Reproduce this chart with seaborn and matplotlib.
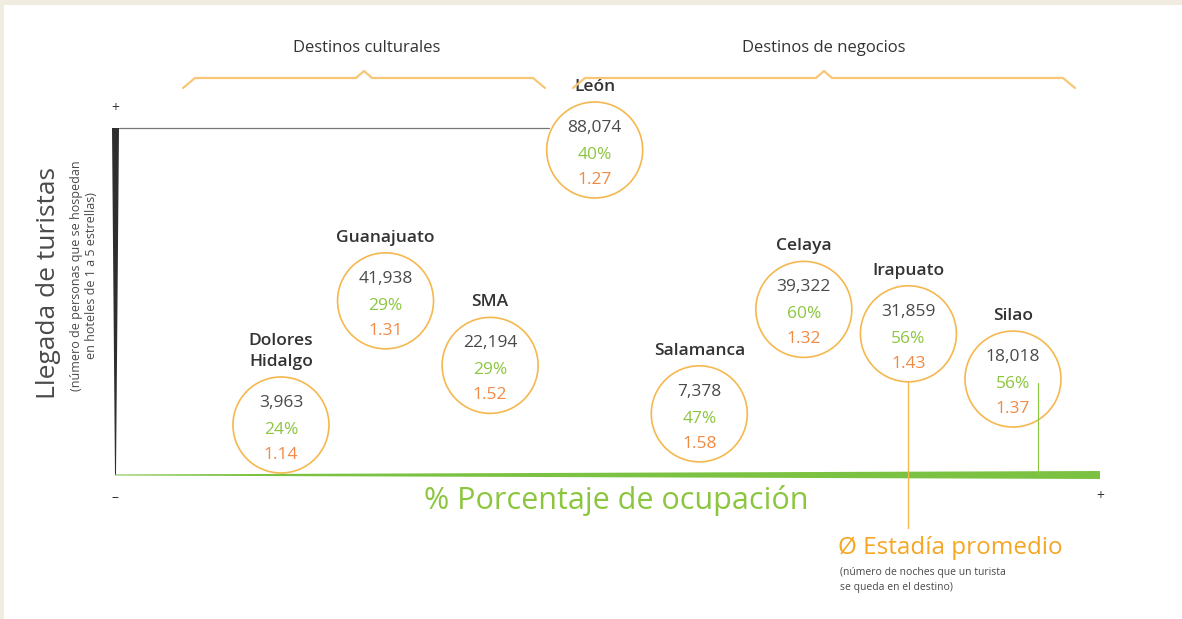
import numpy as np
import pandas as pd
import matplotlib
matplotlib.use("Agg")
import matplotlib.pyplot as plt
import seaborn as sns
from matplotlib.lines import Line2D
from matplotlib.patches import Polygon, Rectangle

# datos
ciudades = ["Dolores\nHidalgo", "Guanajuato", "SMA", "León", "Salamanca", "Celaya", "Irapuato", "Silao"]
llegadas = [3963, 41938, 22194, 88074, 7378, 39322, 31859, 18018]
ocupacion = [24, 29, 29, 40, 47, 60, 56, 56]
estadia = [1.14, 1.31, 1.52, 1.27, 1.58, 1.32, 1.43, 1.37]
tipo = ["Destinos culturales"] * 3 + ["Destinos de negocios"] * 5

df = pd.DataFrame({"ciudad": ciudades, "llegadas": llegadas,
                   "ocupacion": ocupacion, "estadia": estadia, "tipo": tipo})

W, H = 1182, 619
GRIS = "#4a4a4a"
VERDE = "#8cc63f"
NARANJA = "#f5b84f"
ROJIZO = "#f08a45"

sns.set_theme(style="white")
plt.rcParams["font.family"] = ["Open Sans", "DejaVu Sans"]

fig = plt.figure(figsize=(W / 100, H / 100), dpi=100)
fig.patch.set_facecolor("#f0ede0")
fig.add_artist(Rectangle((4 / W, 0), 1, 1 - 5 / H, transform=fig.transFigure,
                         facecolor="white", edgecolor="none", zorder=0))


def fp(x, y):
    # pixeles de la imagen -> fraccion de figura
    return x / W, 1 - y / H


R = 48  # radio del circulo en px
k = 0.72  # px -> pt

ax = fig.add_axes([115 / W, 1 - 475 / H, 985 / W, 347 / H])
ax.set_facecolor("none")
sns.scatterplot(data=df, x="ciudad", y="llegadas", s=(2 * R * k) ** 2, marker="o",
                facecolors="none", edgecolor=NARANJA, linewidth=1.2,
                legend=False, ax=ax, zorder=3)
ax.collections[0].set_clip_on(False)
ax.set_xlim(-1.587, 7.832)
ax.set_ylim(-11330, 94800)
ax.axis("off")

for i, row in df.iterrows():
    xy = (i, row["llegadas"])
    ax.annotate(f"{row['llegadas']:,}", xy, xytext=(0, 22 * k), textcoords="offset points",
                ha="center", va="center", fontsize=12.5, color=GRIS)
    ax.annotate(f"{row['ocupacion']}%", xy, xytext=(0, -5 * k), textcoords="offset points",
                ha="center", va="center", fontsize=12.5, color=VERDE)
    ax.annotate(f"{row['estadia']:.2f}", xy, xytext=(0, -30 * k), textcoords="offset points",
                ha="center", va="center", fontsize=12.5, color=ROJIZO)
    ax.annotate(row["ciudad"], xy, xytext=(0, (R + 7) * k), textcoords="offset points",
                ha="center", va="bottom", fontsize=12.5, color="#333333",
                fontweight="semibold", linespacing=1.4)

fig.canvas.draw()


def data_px(i, y):
    # coordenadas de datos -> pixeles de imagen (origen arriba)
    dx, dy = ax.transData.transform((i, y))
    return dx, H - dy


# linea gris hasta Leon
lx, ly = data_px(3, llegadas[3])
fig.add_artist(Line2D(*zip(fp(119, ly - 22), fp(lx - R + 2, ly - 22)),
                      transform=fig.transFigure, color="#777777", lw=0.9))
# linea naranja desde Irapuato
ix, iy = data_px(6, llegadas[6])
fig.add_artist(Line2D(*zip(fp(ix, iy + R), fp(ix, 528)),
                      transform=fig.transFigure, color=NARANJA, lw=1.0))
# linea verde desde Silao
sx, sy = data_px(7, llegadas[7])
fig.add_artist(Line2D(*zip(fp(sx + 25, sy + 4), fp(sx + 25, 475)),
                      transform=fig.transFigure, color=VERDE, lw=0.8))

# ejes con grosor variable
fig.add_artist(Polygon([fp(112, 128), fp(119, 128), fp(116, 475), fp(115, 475)],
                       closed=True, transform=fig.transFigure, facecolor="#2e2e2e",
                       edgecolor="none"))
fig.add_artist(Polygon([fp(115, 474.5), fp(1100, 471), fp(1100, 479), fp(115, 475.5)],
                       closed=True, transform=fig.transFigure, facecolor="#7cc242",
                       edgecolor="none"))
fig.text(*fp(115, 108), "+", ha="center", va="center", fontsize=10, color="#333333")
fig.text(*fp(115, 497), "–", ha="center", va="center", fontsize=10, color="#333333")
fig.text(*fp(1100, 497), "+", ha="center", va="center", fontsize=10, color="#333333")

# titulos de ejes
fig.text(*fp(49, 283), "Llegada de turistas", rotation=90, ha="center", va="center",
         fontsize=19, color=GRIS)
fig.text(*fp(84, 276), "(número de personas que se hospedan\nen hoteles de 1 a 5 estrellas)",
         rotation=90, ha="center", va="center", fontsize=9, color=GRIS, linespacing=1.2)
fig.text(*fp(616, 500), "% Porcentaje de ocupación", ha="center", va="center",
         fontsize=22, color=VERDE)
fig.text(*fp(838, 548), "Ø Estadía promedio", ha="left", va="center",
         fontsize=17.5, color="#f5a623")
fig.text(*fp(840, 580), "(número de noches que un turista\nse queda en el destino)",
         ha="left", va="center", fontsize=7.5, color=GRIS, linespacing=1.5)


# llaves de los grupos
def llave(x0, x1, y=78):
    c = (x0 + x1) / 2
    pts = [(x0, y + 10), (x0 + 12, y), (c - 8, y), (c, y - 7), (c + 8, y),
           (x1 - 12, y), (x1, y + 10)]
    xs, ys = zip(*[fp(px, py) for px, py in pts])
    fig.add_artist(Line2D(xs, ys, transform=fig.transFigure, color="#f7c676",
                          lw=1.6, solid_joinstyle="round"))


llave(183, 545)
llave(573, 1075)
fig.text(*fp(367, 48), "Destinos culturales", ha="center", va="center",
         fontsize=12, color="#333333")
fig.text(*fp(824, 48), "Destinos de negocios", ha="center", va="center",
         fontsize=12, color="#333333")

fig.savefig("out.png", dpi=100, facecolor=fig.get_facecolor())
